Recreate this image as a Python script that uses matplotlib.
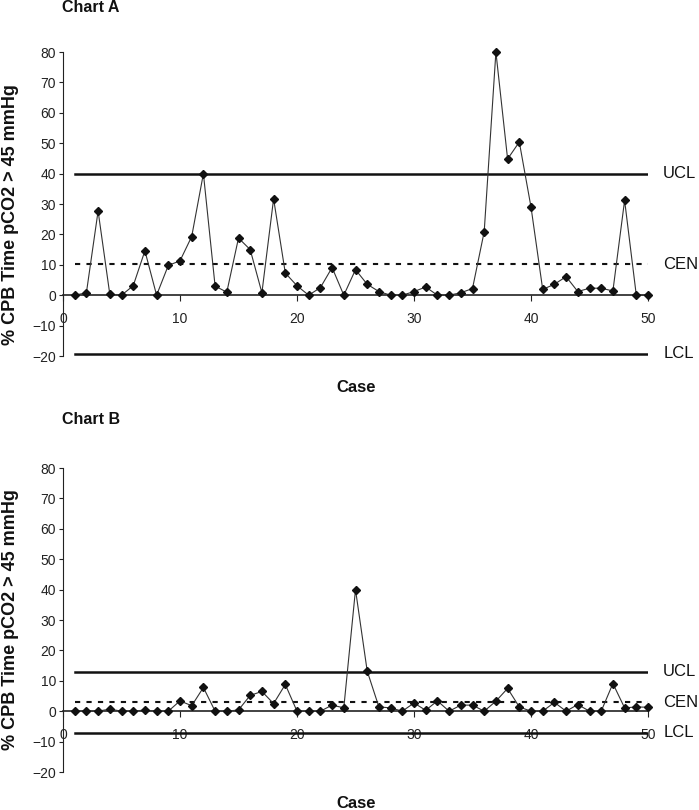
import matplotlib
matplotlib.use("Agg")
import matplotlib.pyplot as plt
import numpy as np

plt.rcParams['font.family'] = ['Liberation Sans', 'DejaVu Sans']

cases = list(range(1, 51))
chart_a = [0, 0.8, 27.7, 0.3, 0, 3.1, 14.6, 0, 9.8, 11.3,
           19.3, 40, 3, 1, 18.8, 15, 0.8, 31.7, 7.3, 3.1,
           0, 2.5, 9.1, 0, 8.4, 3.6, 1.2, 0, 0, 1.2,
           2.7, 0, 0, 0.8, 2.2, 20.9, 80, 44.8, 50.4, 29,
           1.9, 3.6, 6.1, 1.2, 2.3, 2.3, 1.4, 31.2, 0, 0]
chart_b = [0, 0, 0, 0.7, 0, 0, 0.4, 0, 0, 3.4,
           1.8, 7.8, 0, 0, 0.4, 5.2, 6.5, 2.5, 8.8, 0,
           0, 0, 2, 1.1, 40, 13.2, 1.4, 1.1, 0, 2.7,
           0.3, 3.4, 0, 2, 2, 0, 3.3, 7.5, 1.4, 0,
           0, 2.9, 0, 2.2, 0, 0, 9.1, 1.1, 1.4, 1.3]
limits_a = {'UCL': 40, 'CEN': 10.2, 'LCL': -19.2}
limits_b = {'UCL': 13, 'CEN': 3, 'LCL': -7.1}
titles = ['Chart A', 'Chart B']
y_ticks = [-20, -10, 0, 10, 20, 30, 40, 50, 60, 70, 80]
x_ticks = [0, 10, 20, 30, 40, 50]
ylabel = '% CPB Time pCO2 > 45 mmHg'
xlabel = 'Case'

W, H = 699, 810
fig = plt.figure(figsize=(W / 100, H / 100), dpi=100)

def fx(px):
    return px / W

def fy(py):
    return 1 - py / H

panels = [
    (chart_a, limits_a, 52, 356, 8, 215, 388),
    (chart_b, limits_b, 468, 772, 419, 620, 803),
]

for i, (vals, lims, ytop, ybot, ttl_y, ylab_y, xlab_y) in enumerate(panels):
    ax = fig.add_axes([fx(63), fy(ybot), fx(648) - fx(63), fy(ytop) - fy(ybot)])
    ax.set_xlim(0, 50)
    ax.set_ylim(-20, 80)
    ax.patch.set_alpha(0)
    for s in ['top', 'right']:
        ax.spines[s].set_visible(False)
    ax.spines['bottom'].set_position(('data', 0))
    ax.spines['bottom'].set_linewidth(1.2)
    ax.spines['bottom'].set_color('#222222')
    ax.spines['left'].set_linewidth(0.8)
    ax.spines['left'].set_color('#222222')
    ax.set_yticks(y_ticks)
    ax.set_xticks(x_ticks)
    ax.tick_params(axis='y', direction='out', length=3, width=0.8, pad=2,
                   labelsize=10, colors='#222222')
    ax.tick_params(axis='x', direction='out', length=4, width=0.8, pad=8,
                   labelsize=10, colors='#222222')

    # control limits
    ax.plot([1, 50], [lims['UCL']] * 2, color='#111111', lw=1.8, zorder=2.7)
    ax.plot([1, 50], [lims['LCL']] * 2, color='#111111', lw=1.8, zorder=2.7)
    ax.plot([1, 50], [lims['CEN']] * 2, color='#111111', lw=1.5,
            linestyle=(0, (2.5, 3)), zorder=2.7)
    for k in ['UCL', 'CEN', 'LCL']:
        ax.text(51.3, lims[k], k, va='center', ha='left', fontsize=12,
                color='#111111', clip_on=False)

    ax.plot(cases, vals, color='#333333', lw=0.8, marker='D', markersize=4.3,
            markerfacecolor='#111111', markeredgecolor='#111111',
            clip_on=False, zorder=3)

    fig.text(fx(62), fy(ttl_y), titles[i], fontsize=11.5, fontweight='bold',
             ha='left', va='center', color='#111111')
    fig.text(fx(11), fy(ylab_y), ylabel, fontsize=13, fontweight='bold',
             rotation=90, ha='center', va='center', color='#111111')
    fig.text(fx(356), fy(xlab_y), xlabel, fontsize=12, fontweight='bold',
             ha='center', va='center', color='#111111')

fig.savefig('out.png', dpi=100)
